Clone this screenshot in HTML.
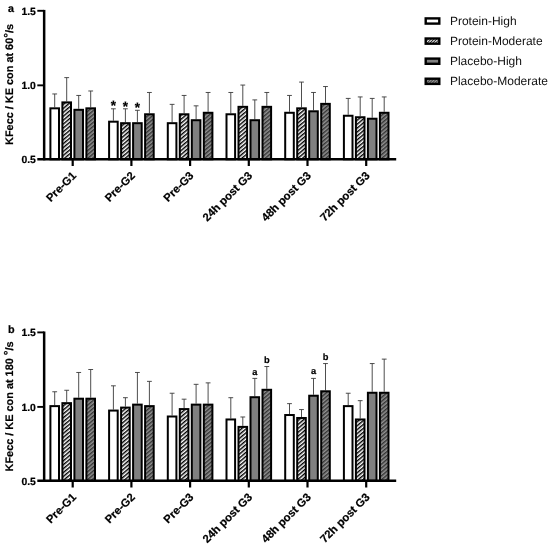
<!DOCTYPE html>
<html><head><meta charset="utf-8"><title>Figure</title>
<style>
html,body{margin:0;padding:0;background:#fff;}
body{width:550px;height:549px;overflow:hidden;}
svg{display:block;will-change:transform;}
text{font-family:"Liberation Sans",sans-serif;fill:#000;text-rendering:geometricPrecision;}
.b{font-weight:bold;stroke:#000;stroke-width:0.2px;}
.r{font-weight:normal;fill:#111;}
</style></head><body>
<svg width="550" height="549" viewBox="0 0 550 549">
<defs>
<pattern id="h1" patternUnits="userSpaceOnUse" width="3" height="3" patternTransform="rotate(-40)">
<rect width="3" height="3" fill="#fff"/><rect width="3" height="1.45" fill="#000"/>
</pattern>
<pattern id="h2" patternUnits="userSpaceOnUse" width="3" height="3" patternTransform="rotate(-40)">
<rect width="3" height="3" fill="#929292"/><rect width="3" height="1.45" fill="#343434"/>
</pattern>
<pattern id="l1" patternUnits="userSpaceOnUse" width="2" height="2" patternTransform="rotate(-45)">
<rect width="2" height="2" fill="#fff"/><rect width="2" height="0.85" fill="#000"/>
</pattern>
<pattern id="l2" patternUnits="userSpaceOnUse" width="2" height="2" patternTransform="rotate(-45)">
<rect width="2" height="2" fill="#989898"/><rect width="2" height="0.85" fill="#303030"/>
</pattern>
</defs>
<rect width="550" height="549" fill="#fff"/>
<path d="M54.70 107.33V93.96M52.30 93.96H57.10" stroke="#3a3a3a" stroke-width="0.9" fill="none"/>
<path d="M66.70 101.39V77.62M64.30 77.62H69.10" stroke="#3a3a3a" stroke-width="0.9" fill="none"/>
<path d="M78.70 108.81V95.45M76.30 95.45H81.10" stroke="#3a3a3a" stroke-width="0.9" fill="none"/>
<path d="M90.70 107.33V90.99M88.30 90.99H93.10" stroke="#3a3a3a" stroke-width="0.9" fill="none"/>
<path d="M113.40 120.69V108.81M111.00 108.81H115.80" stroke="#3a3a3a" stroke-width="0.9" fill="none"/>
<path d="M125.40 122.18V108.81M123.00 108.81H127.80" stroke="#3a3a3a" stroke-width="0.9" fill="none"/>
<path d="M137.40 122.18V110.30M135.00 110.30H139.80" stroke="#3a3a3a" stroke-width="0.9" fill="none"/>
<path d="M149.40 113.27V92.48M147.00 92.48H151.80" stroke="#3a3a3a" stroke-width="0.9" fill="none"/>
<path d="M172.10 122.18V104.36M169.70 104.36H174.50" stroke="#3a3a3a" stroke-width="0.9" fill="none"/>
<path d="M184.10 113.27V95.45M181.70 95.45H186.50" stroke="#3a3a3a" stroke-width="0.9" fill="none"/>
<path d="M196.10 119.21V105.84M193.70 105.84H198.50" stroke="#3a3a3a" stroke-width="0.9" fill="none"/>
<path d="M208.10 111.78V92.48M205.70 92.48H210.50" stroke="#3a3a3a" stroke-width="0.9" fill="none"/>
<path d="M230.80 113.27V92.48M228.40 92.48H233.20" stroke="#3a3a3a" stroke-width="0.9" fill="none"/>
<path d="M242.80 105.84V85.05M240.40 85.05H245.20" stroke="#3a3a3a" stroke-width="0.9" fill="none"/>
<path d="M254.80 119.21V99.90M252.40 99.90H257.20" stroke="#3a3a3a" stroke-width="0.9" fill="none"/>
<path d="M266.80 105.84V92.48M264.40 92.48H269.20" stroke="#3a3a3a" stroke-width="0.9" fill="none"/>
<path d="M289.50 111.78V95.45M287.10 95.45H291.90" stroke="#3a3a3a" stroke-width="0.9" fill="none"/>
<path d="M301.50 107.33V82.08M299.10 82.08H303.90" stroke="#3a3a3a" stroke-width="0.9" fill="none"/>
<path d="M313.50 110.30V92.48M311.10 92.48H315.90" stroke="#3a3a3a" stroke-width="0.9" fill="none"/>
<path d="M325.50 102.87V86.54M323.10 86.54H327.90" stroke="#3a3a3a" stroke-width="0.9" fill="none"/>
<path d="M348.20 114.75V98.42M345.80 98.42H350.60" stroke="#3a3a3a" stroke-width="0.9" fill="none"/>
<path d="M360.20 116.24V96.93M357.80 96.93H362.60" stroke="#3a3a3a" stroke-width="0.9" fill="none"/>
<path d="M372.20 117.72V98.42M369.80 98.42H374.60" stroke="#3a3a3a" stroke-width="0.9" fill="none"/>
<path d="M384.20 111.78V96.93M381.80 96.93H386.60" stroke="#3a3a3a" stroke-width="0.9" fill="none"/>
<rect x="50.40" y="108.33" width="8.60" height="50.97" fill="#fff" stroke="#000" stroke-width="2.0"/>
<rect x="62.40" y="102.39" width="8.60" height="56.91" fill="url(#h1)" stroke="#000" stroke-width="2.0"/>
<rect x="74.40" y="109.81" width="8.60" height="49.49" fill="#808080" stroke="#000" stroke-width="2.0"/>
<rect x="86.40" y="108.33" width="8.60" height="50.97" fill="url(#h2)" stroke="#000" stroke-width="2.0"/>
<rect x="109.10" y="121.69" width="8.60" height="37.61" fill="#fff" stroke="#000" stroke-width="2.0"/>
<rect x="121.10" y="123.18" width="8.60" height="36.12" fill="url(#h1)" stroke="#000" stroke-width="2.0"/>
<rect x="133.10" y="123.18" width="8.60" height="36.12" fill="#808080" stroke="#000" stroke-width="2.0"/>
<rect x="145.10" y="114.27" width="8.60" height="45.04" fill="url(#h2)" stroke="#000" stroke-width="2.0"/>
<rect x="167.80" y="123.18" width="8.60" height="36.12" fill="#fff" stroke="#000" stroke-width="2.0"/>
<rect x="179.80" y="114.27" width="8.60" height="45.04" fill="url(#h1)" stroke="#000" stroke-width="2.0"/>
<rect x="191.80" y="120.21" width="8.60" height="39.09" fill="#808080" stroke="#000" stroke-width="2.0"/>
<rect x="203.80" y="112.78" width="8.60" height="46.52" fill="url(#h2)" stroke="#000" stroke-width="2.0"/>
<rect x="226.50" y="114.27" width="8.60" height="45.04" fill="#fff" stroke="#000" stroke-width="2.0"/>
<rect x="238.50" y="106.84" width="8.60" height="52.46" fill="url(#h1)" stroke="#000" stroke-width="2.0"/>
<rect x="250.50" y="120.21" width="8.60" height="39.09" fill="#808080" stroke="#000" stroke-width="2.0"/>
<rect x="262.50" y="106.84" width="8.60" height="52.46" fill="url(#h2)" stroke="#000" stroke-width="2.0"/>
<rect x="285.20" y="112.78" width="8.60" height="46.52" fill="#fff" stroke="#000" stroke-width="2.0"/>
<rect x="297.20" y="108.33" width="8.60" height="50.97" fill="url(#h1)" stroke="#000" stroke-width="2.0"/>
<rect x="309.20" y="111.30" width="8.60" height="48.00" fill="#808080" stroke="#000" stroke-width="2.0"/>
<rect x="321.20" y="103.87" width="8.60" height="55.43" fill="url(#h2)" stroke="#000" stroke-width="2.0"/>
<rect x="343.90" y="115.75" width="8.60" height="43.55" fill="#fff" stroke="#000" stroke-width="2.0"/>
<rect x="355.90" y="117.24" width="8.60" height="42.06" fill="url(#h1)" stroke="#000" stroke-width="2.0"/>
<rect x="367.90" y="118.72" width="8.60" height="40.58" fill="#808080" stroke="#000" stroke-width="2.0"/>
<rect x="379.90" y="112.78" width="8.60" height="46.52" fill="url(#h2)" stroke="#000" stroke-width="2.0"/>
<path d="M44.15 9.90V160.30" stroke="#000" stroke-width="2.5" fill="none"/>
<path d="M37.3 159.30H396.2" stroke="#000" stroke-width="2.5" fill="none"/>
<path d="M37.3 85.35H44.15" stroke="#000" stroke-width="1.9" fill="none"/>
<path d="M37.3 10.80H44.15" stroke="#000" stroke-width="1.9" fill="none"/>
<path d="M72.70 159.30V166.00" stroke="#000" stroke-width="2.2" fill="none"/>
<path d="M131.40 159.30V166.00" stroke="#000" stroke-width="2.2" fill="none"/>
<path d="M190.10 159.30V166.00" stroke="#000" stroke-width="2.2" fill="none"/>
<path d="M248.80 159.30V166.00" stroke="#000" stroke-width="2.2" fill="none"/>
<path d="M307.50 159.30V166.00" stroke="#000" stroke-width="2.2" fill="none"/>
<path d="M366.20 159.30V166.00" stroke="#000" stroke-width="2.2" fill="none"/>
<text x="35.9" y="163.20" text-anchor="end" class="b" font-size="10.4">0.5</text>
<text x="35.9" y="88.95" text-anchor="end" class="b" font-size="10.4">1.0</text>
<text x="35.9" y="14.70" text-anchor="end" class="b" font-size="10.4">1.5</text>
<text transform="translate(76.90 176.30) rotate(-45)" text-anchor="end" class="b" font-size="11.3">Pre-G1</text>
<text transform="translate(135.60 176.30) rotate(-45)" text-anchor="end" class="b" font-size="11.3">Pre-G2</text>
<text transform="translate(194.30 176.30) rotate(-45)" text-anchor="end" class="b" font-size="11.3">Pre-G3</text>
<text transform="translate(253.00 176.30) rotate(-45)" text-anchor="end" class="b" font-size="11.3">24h post G3</text>
<text transform="translate(311.70 176.30) rotate(-45)" text-anchor="end" class="b" font-size="11.3">48h post G3</text>
<text transform="translate(370.40 176.30) rotate(-45)" text-anchor="end" class="b" font-size="11.3">72h post G3</text>
<text transform="translate(13.4 144.90) rotate(-90)" class="b" font-size="10.9">KFecc / KE con at 60<tspan dy="-1.8" font-size="11.6">°</tspan><tspan dy="1.8">/s</tspan></text>
<text x="8.0" y="11.70" class="b" font-size="10.8">a</text>
<text x="113.40" y="110.31" text-anchor="middle" class="b" font-size="13.5">*</text>
<text x="125.40" y="110.91" text-anchor="middle" class="b" font-size="13.5">*</text>
<text x="137.40" y="112.30" text-anchor="middle" class="b" font-size="13.5">*</text>
<path d="M54.70 405.12V391.76M52.30 391.76H57.10" stroke="#3a3a3a" stroke-width="0.9" fill="none"/>
<path d="M66.70 402.15V390.28M64.30 390.28H69.10" stroke="#3a3a3a" stroke-width="0.9" fill="none"/>
<path d="M78.70 397.70V372.47M76.30 372.47H81.10" stroke="#3a3a3a" stroke-width="0.9" fill="none"/>
<path d="M90.70 397.70V369.50M88.30 369.50H93.10" stroke="#3a3a3a" stroke-width="0.9" fill="none"/>
<path d="M113.40 409.57V385.82M111.00 385.82H115.80" stroke="#3a3a3a" stroke-width="0.9" fill="none"/>
<path d="M125.40 406.60V397.70M123.00 397.70H127.80" stroke="#3a3a3a" stroke-width="0.9" fill="none"/>
<path d="M137.40 403.63V372.47M135.00 372.47H139.80" stroke="#3a3a3a" stroke-width="0.9" fill="none"/>
<path d="M149.40 405.12V381.37M147.00 381.37H151.80" stroke="#3a3a3a" stroke-width="0.9" fill="none"/>
<path d="M172.10 415.50V393.24M169.70 393.24H174.50" stroke="#3a3a3a" stroke-width="0.9" fill="none"/>
<path d="M184.10 408.08V399.18M181.70 399.18H186.50" stroke="#3a3a3a" stroke-width="0.9" fill="none"/>
<path d="M196.10 403.63V384.34M193.70 384.34H198.50" stroke="#3a3a3a" stroke-width="0.9" fill="none"/>
<path d="M208.10 403.63V382.86M205.70 382.86H210.50" stroke="#3a3a3a" stroke-width="0.9" fill="none"/>
<path d="M230.80 418.47V397.70M228.40 397.70H233.20" stroke="#3a3a3a" stroke-width="0.9" fill="none"/>
<path d="M242.80 425.89V416.99M240.40 416.99H245.20" stroke="#3a3a3a" stroke-width="0.9" fill="none"/>
<path d="M254.80 396.21V378.40M252.40 378.40H257.20" stroke="#3a3a3a" stroke-width="0.9" fill="none"/>
<path d="M266.80 388.79V366.53M264.40 366.53H269.20" stroke="#3a3a3a" stroke-width="0.9" fill="none"/>
<path d="M289.50 414.02V403.63M287.10 403.63H291.90" stroke="#3a3a3a" stroke-width="0.9" fill="none"/>
<path d="M301.50 416.99V409.57M299.10 409.57H303.90" stroke="#3a3a3a" stroke-width="0.9" fill="none"/>
<path d="M313.50 394.73V378.40M311.10 378.40H315.90" stroke="#3a3a3a" stroke-width="0.9" fill="none"/>
<path d="M325.50 390.28V363.56M323.10 363.56H327.90" stroke="#3a3a3a" stroke-width="0.9" fill="none"/>
<path d="M348.20 405.12V393.24M345.80 393.24H350.60" stroke="#3a3a3a" stroke-width="0.9" fill="none"/>
<path d="M360.20 418.47V400.66M357.80 400.66H362.60" stroke="#3a3a3a" stroke-width="0.9" fill="none"/>
<path d="M372.20 391.76V363.56M369.80 363.56H374.60" stroke="#3a3a3a" stroke-width="0.9" fill="none"/>
<path d="M384.20 391.76V359.11M381.80 359.11H386.60" stroke="#3a3a3a" stroke-width="0.9" fill="none"/>
<rect x="50.40" y="406.12" width="8.60" height="74.68" fill="#fff" stroke="#000" stroke-width="2.0"/>
<rect x="62.40" y="403.15" width="8.60" height="77.65" fill="url(#h1)" stroke="#000" stroke-width="2.0"/>
<rect x="74.40" y="398.70" width="8.60" height="82.10" fill="#808080" stroke="#000" stroke-width="2.0"/>
<rect x="86.40" y="398.70" width="8.60" height="82.10" fill="url(#h2)" stroke="#000" stroke-width="2.0"/>
<rect x="109.10" y="410.57" width="8.60" height="70.23" fill="#fff" stroke="#000" stroke-width="2.0"/>
<rect x="121.10" y="407.60" width="8.60" height="73.20" fill="url(#h1)" stroke="#000" stroke-width="2.0"/>
<rect x="133.10" y="404.63" width="8.60" height="76.17" fill="#808080" stroke="#000" stroke-width="2.0"/>
<rect x="145.10" y="406.12" width="8.60" height="74.68" fill="url(#h2)" stroke="#000" stroke-width="2.0"/>
<rect x="167.80" y="416.50" width="8.60" height="64.30" fill="#fff" stroke="#000" stroke-width="2.0"/>
<rect x="179.80" y="409.08" width="8.60" height="71.72" fill="url(#h1)" stroke="#000" stroke-width="2.0"/>
<rect x="191.80" y="404.63" width="8.60" height="76.17" fill="#808080" stroke="#000" stroke-width="2.0"/>
<rect x="203.80" y="404.63" width="8.60" height="76.17" fill="url(#h2)" stroke="#000" stroke-width="2.0"/>
<rect x="226.50" y="419.47" width="8.60" height="61.33" fill="#fff" stroke="#000" stroke-width="2.0"/>
<rect x="238.50" y="426.89" width="8.60" height="53.91" fill="url(#h1)" stroke="#000" stroke-width="2.0"/>
<rect x="250.50" y="397.21" width="8.60" height="83.59" fill="#808080" stroke="#000" stroke-width="2.0"/>
<rect x="262.50" y="389.79" width="8.60" height="91.01" fill="url(#h2)" stroke="#000" stroke-width="2.0"/>
<rect x="285.20" y="415.02" width="8.60" height="65.78" fill="#fff" stroke="#000" stroke-width="2.0"/>
<rect x="297.20" y="417.99" width="8.60" height="62.81" fill="url(#h1)" stroke="#000" stroke-width="2.0"/>
<rect x="309.20" y="395.73" width="8.60" height="85.07" fill="#808080" stroke="#000" stroke-width="2.0"/>
<rect x="321.20" y="391.28" width="8.60" height="89.52" fill="url(#h2)" stroke="#000" stroke-width="2.0"/>
<rect x="343.90" y="406.12" width="8.60" height="74.68" fill="#fff" stroke="#000" stroke-width="2.0"/>
<rect x="355.90" y="419.47" width="8.60" height="61.33" fill="url(#h1)" stroke="#000" stroke-width="2.0"/>
<rect x="367.90" y="392.76" width="8.60" height="88.04" fill="#808080" stroke="#000" stroke-width="2.0"/>
<rect x="379.90" y="392.76" width="8.60" height="88.04" fill="url(#h2)" stroke="#000" stroke-width="2.0"/>
<path d="M44.15 331.50V481.80" stroke="#000" stroke-width="2.5" fill="none"/>
<path d="M37.3 480.80H396.2" stroke="#000" stroke-width="2.5" fill="none"/>
<path d="M37.3 406.90H44.15" stroke="#000" stroke-width="1.9" fill="none"/>
<path d="M37.3 332.40H44.15" stroke="#000" stroke-width="1.9" fill="none"/>
<path d="M72.70 480.80V487.50" stroke="#000" stroke-width="2.2" fill="none"/>
<path d="M131.40 480.80V487.50" stroke="#000" stroke-width="2.2" fill="none"/>
<path d="M190.10 480.80V487.50" stroke="#000" stroke-width="2.2" fill="none"/>
<path d="M248.80 480.80V487.50" stroke="#000" stroke-width="2.2" fill="none"/>
<path d="M307.50 480.80V487.50" stroke="#000" stroke-width="2.2" fill="none"/>
<path d="M366.20 480.80V487.50" stroke="#000" stroke-width="2.2" fill="none"/>
<text x="35.9" y="484.70" text-anchor="end" class="b" font-size="10.4">0.5</text>
<text x="35.9" y="410.50" text-anchor="end" class="b" font-size="10.4">1.0</text>
<text x="35.9" y="336.30" text-anchor="end" class="b" font-size="10.4">1.5</text>
<text transform="translate(76.90 497.80) rotate(-45)" text-anchor="end" class="b" font-size="11.3">Pre-G1</text>
<text transform="translate(135.60 497.80) rotate(-45)" text-anchor="end" class="b" font-size="11.3">Pre-G2</text>
<text transform="translate(194.30 497.80) rotate(-45)" text-anchor="end" class="b" font-size="11.3">Pre-G3</text>
<text transform="translate(253.00 497.80) rotate(-45)" text-anchor="end" class="b" font-size="11.3">24h post G3</text>
<text transform="translate(311.70 497.80) rotate(-45)" text-anchor="end" class="b" font-size="11.3">48h post G3</text>
<text transform="translate(370.40 497.80) rotate(-45)" text-anchor="end" class="b" font-size="11.3">72h post G3</text>
<text transform="translate(13.4 471.40) rotate(-90)" class="b" font-size="10.9">KFecc / KE con at 180 <tspan dy="-1.8" font-size="11.6">°</tspan><tspan dy="1.8">/s</tspan></text>
<text x="8.0" y="333.30" class="b" font-size="10.8">b</text>
<text x="254.80" y="375.20" text-anchor="middle" class="b" font-size="9.3">a</text>
<text x="266.80" y="363.03" text-anchor="middle" class="b" font-size="9.3">b</text>
<text x="313.50" y="374.20" text-anchor="middle" class="b" font-size="9.3">a</text>
<text x="325.50" y="360.06" text-anchor="middle" class="b" font-size="9.3">b</text>
<rect x="425.7" y="18.40" width="13.6" height="5.2" fill="#fff" stroke="#000" stroke-width="2.4"/>
<text x="449.9" y="25.20" class="r" font-size="12">Protein-High</text>
<rect x="425.7" y="38.50" width="13.6" height="5.2" fill="url(#l1)" stroke="#000" stroke-width="2.4"/>
<text x="449.9" y="45.05" class="r" font-size="12">Protein-Moderate</text>
<rect x="425.7" y="58.60" width="13.6" height="5.2" fill="#808080" stroke="#000" stroke-width="2.4"/>
<text x="449.9" y="64.90" class="r" font-size="12">Placebo-High</text>
<rect x="425.7" y="78.70" width="13.6" height="5.2" fill="url(#l2)" stroke="#000" stroke-width="2.4"/>
<text x="449.9" y="84.75" class="r" font-size="12">Placebo-Moderate</text>
</svg>
</body></html>
